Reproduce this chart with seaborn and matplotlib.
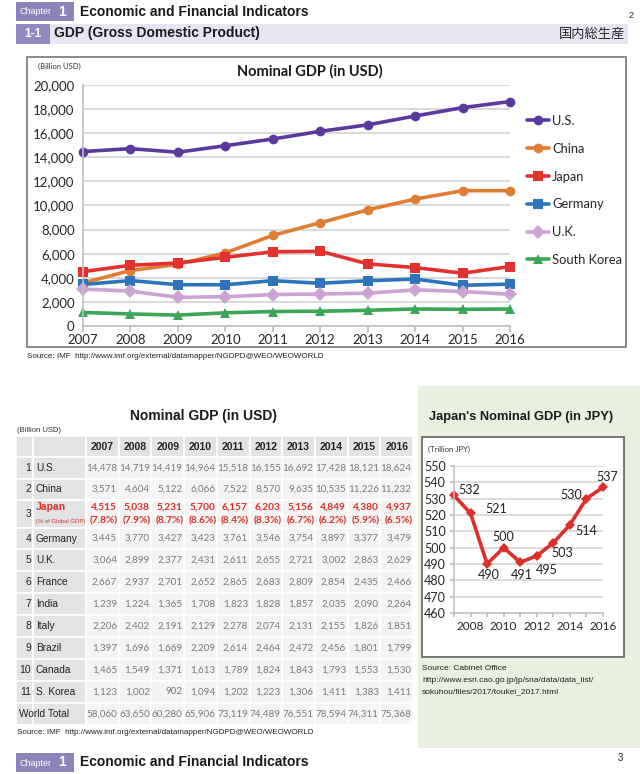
import numpy as np
import pandas as pd
import matplotlib
matplotlib.use('Agg')
import matplotlib.pyplot as plt
import seaborn as sns
from matplotlib.patches import Rectangle
from matplotlib.ticker import FuncFormatter

# ---- data (billion USD, IMF) ----
years = [2007, 2008, 2009, 2010, 2011, 2012, 2013, 2014, 2015, 2016]
us = [14478, 14719, 14419, 14964, 15518, 16155, 16692, 17428, 18121, 18624]
china = [3571, 4604, 5122, 6066, 7522, 8570, 9635, 10535, 11226, 11232]
japan = [4515, 5038, 5231, 5700, 6157, 6203, 5156, 4849, 4380, 4937]
germany = [3445, 3770, 3427, 3423, 3761, 3546, 3754, 3897, 3377, 3479]
uk = [3064, 2899, 2377, 2431, 2611, 2655, 2721, 3002, 2863, 2629]
france = [2667, 2937, 2701, 2652, 2865, 2683, 2809, 2854, 2435, 2466]
india = [1239, 1224, 1365, 1708, 1823, 1828, 1857, 2035, 2090, 2264]
italy = [2206, 2402, 2191, 2129, 2278, 2074, 2131, 2155, 1826, 1851]
brazil = [1397, 1696, 1669, 2209, 2614, 2464, 2472, 2456, 1801, 1799]
canada = [1465, 1549, 1371, 1613, 1789, 1824, 1843, 1793, 1553, 1530]
korea = [1123, 1002, 902, 1094, 1202, 1223, 1306, 1411, 1383, 1411]
world_total = [58060, 63650, 60280, 65906, 73119, 74489, 76551, 78594, 74311, 75368]
japan_share = [7.8, 7.9, 8.7, 8.6, 8.4, 8.3, 6.7, 6.2, 5.9, 6.5]

chart_countries = ['U.S.', 'China', 'Japan', 'Germany', 'U.K.', 'South Korea']
chart_values = [us, china, japan, germany, uk, korea]

tbl_names = ['U.S.', 'China', 'Japan', 'Germany', 'U.K.', 'France', 'India',
             'Italy', 'Brazil', 'Canada', 'S. Korea']
tbl_values = [us, china, japan, germany, uk, france, india, italy, brazil, canada, korea]

# Japan nominal GDP (trillion JPY, Cabinet Office)
jpy_gdp = [532, 521, 490, 500, 491, 495, 503, 514, 530, 537]

colors = {'U.S.': '#5b3a9e', 'China': '#e07d35', 'Japan': '#e2322f',
          'Germany': '#2f74bb', 'U.K.': '#cda3d6', 'South Korea': '#3ca556'}
markers = {'U.S.': 'o', 'China': 'o', 'Japan': 's', 'Germany': 's',
           'U.K.': 'D', 'South Korea': '^'}

sns.set_theme(style='white')
plt.rcParams['font.family'] = ['Lato', 'DejaVu Sans']
ARIAL = ['Liberation Sans', 'DejaVu Sans']
JP = ['Noto Sans CJK JP', 'DejaVu Sans']

W, H = 640, 774
fig = plt.figure(figsize=(6.4, 7.74), dpi=100)


def box(x0, y0, x1, y1):
    return [x0 / W, 1 - y1 / H, (x1 - x0) / W, (y1 - y0) / H]


bg = fig.add_axes([0, 0, 1, 1], zorder=-5)
bg.set_xlim(0, W)
bg.set_ylim(H, 0)
bg.axis('off')

purple = '#8c84b9'


def chapter_header(y):
    bg.add_patch(Rectangle((16, y), 58, 18.5, color=purple, lw=0))
    bg.text(20, y + 10, 'Chapter', color='white', fontsize=6.5, family=ARIAL, va='center')
    bg.text(58, y + 9.5, '1', color='white', fontsize=10, weight='bold', family=ARIAL, va='center')
    bg.text(80, y + 9.5, 'Economic and Financial Indicators', fontsize=10, weight='bold',
            family=ARIAL, va='center', color='#1a1a1a')


chapter_header(2)
bg.text(631, 16, '2', fontsize=6.5, family=ARIAL, ha='center', va='center')
bg.add_patch(Rectangle((16, 24), 612, 19.5, color='#e7e5f1', lw=0))
bg.add_patch(Rectangle((16, 24), 34, 19.5, color='#918ac0', lw=0))
bg.text(33, 34, '1-1', color='white', fontsize=8.5, weight='bold', family=ARIAL,
        ha='center', va='center')
bg.text(54, 33.5, 'GDP (Gross Domestic Product)', fontsize=10, weight='bold',
        family=ARIAL, va='center', color='#1a1a1a')
bg.text(625, 34, '国内総生産', fontsize=9.5, family=JP, ha='right', va='center')

# ---- main line chart ----
bg.add_patch(Rectangle((27, 57), 599, 290, fill=False, ec='#808080', lw=1.3))
bg.text(310, 71, 'Nominal GDP (in USD)', fontsize=10.5, weight='bold', ha='center',
        va='center', color='#1a1a1a')
bg.text(38, 66, '(Billion USD)', fontsize=5.5, va='center', color='#333')

df = pd.DataFrame({
    'Year': np.tile(years, len(chart_countries)),
    'GDP': np.concatenate(chart_values),
    'Country': np.repeat(chart_countries, len(years)),
})
ax = fig.add_axes(box(83, 85, 510, 326))
ax.set_facecolor('none')
sns.lineplot(data=df, x='Year', y='GDP', hue='Country', style='Country',
             hue_order=chart_countries, style_order=chart_countries,
             palette=colors, markers=markers, dashes=False, linewidth=2.6,
             markersize=7, markeredgewidth=0, ax=ax)
ax.set_xlim(2007, 2016)
ax.set_ylim(0, 20000)
ax.set_yticks(np.arange(0, 20001, 2000))
ax.set_xticks(years)
ax.yaxis.set_major_formatter(FuncFormatter(lambda v, p: f'{int(v):,}'))
ax.grid(axis='y', color='#d9d9d9', lw=1.4)
ax.set_axisbelow(True)
ax.set_xlabel('')
ax.set_ylabel('')
for s in ['top', 'right']:
    ax.spines[s].set_visible(False)
for s in ['left', 'bottom']:
    ax.spines[s].set_color('#bfbfbf')
    ax.spines[s].set_linewidth(1.2)
ax.tick_params(axis='x', labelsize=9.5, length=4, color='#bfbfbf', pad=2, bottom=True)
ax.tick_params(axis='y', labelsize=9.5, length=0, pad=6)
for ln in ax.lines:
    ln.set_clip_on(False)
handles, labels = ax.get_legend_handles_labels()
ax.legend(handles, labels, loc='upper left', bbox_to_anchor=(527 / W, 1 - 115 / H),
          bbox_transform=fig.transFigure, frameon=False, fontsize=9.3,
          handlelength=1.7, handletextpad=0.25, labelspacing=1.22,
          borderpad=0, borderaxespad=0)

bg.text(27, 357, 'Source: IMF  http://www.imf.org/external/datamapper/NGDPD@WEO/WEOWORLD',
        fontsize=5.8, family=ARIAL, va='center', color='#222')

# ---- table ----
bg.text(203, 416, 'Nominal GDP (in USD)', fontsize=10, weight='bold', family=ARIAL,
        ha='center', va='center', color='#1a1a1a')
bg.text(17, 430, '(Billion USD)', fontsize=5.5, family=ARIAL, va='center', color='#333')

row_edges = [436, 457, 479, 500, 528, 549, 571, 593, 615, 637, 659, 681, 703, 725]
col_edges = [16, 33, 86] + [86 + 32.7 * (i + 1) for i in range(10)]
red = '#d7312a'
num_grey = '#7a7a7a'

for r in range(len(row_edges) - 1):
    y0, y1 = row_edges[r], row_edges[r + 1]
    for c in range(len(col_edges) - 1):
        x0, x1 = col_edges[c], col_edges[c + 1]
        fc = '#e3e3e3' if (r == 0 or c < 2) else '#f4f4f4'
        bg.add_patch(Rectangle((x0, y0), x1 - x0, y1 - y0, fc=fc, ec='white', lw=1.2))

# header years
for i, yr in enumerate(years):
    xc = (col_edges[i + 2] + col_edges[i + 3]) / 2
    bg.text(xc, 447, str(yr), fontsize=7.5, weight='bold', family=ARIAL, ha='center',
            va='center', color='#222')

for k, (name, vals) in enumerate(zip(tbl_names, tbl_values)):
    y0, y1 = row_edges[k + 1], row_edges[k + 2]
    yc = (y0 + y1) / 2
    bg.text(31, yc, str(k + 1), fontsize=7.5, family=ARIAL, ha='right', va='center', color='#222')
    if name == 'Japan':
        bg.text(36, yc - 6.5, name, fontsize=7.5, weight='bold', family=ARIAL, va='center', color=red)
        bg.text(36, yc + 7, '(% of Global GDP)', fontsize=4.3, family=ARIAL, va='center', color=red)
        for i, v in enumerate(vals):
            xr = col_edges[i + 3] - 1.5
            bg.text(xr, yc - 6.5, f'{v:,}', fontsize=7.3, weight='bold', ha='right',
                    va='center', color=red)
            bg.text(xr + 1, yc + 7, f'({japan_share[i]}%)', fontsize=7.3, weight='bold',
                    ha='right', va='center', color=red)
    else:
        bg.text(36, yc, name, fontsize=7.3, family=ARIAL, va='center', color='#222')
        for i, v in enumerate(vals):
            xr = col_edges[i + 3] - 1.5
            bg.text(xr, yc, f'{v:,}', fontsize=7.1, ha='right', va='center', color=num_grey)

yc = (row_edges[-2] + row_edges[-1]) / 2
bg.text(19, yc, 'World Total', fontsize=7.3, family=ARIAL, va='center', color='#222')
for i, v in enumerate(world_total):
    bg.text(col_edges[i + 3] - 1.5, yc, f'{v:,}', fontsize=7.1, ha='right', va='center',
            color=num_grey)

bg.text(17, 733, 'Source: IMF  http://www.imf.org/external/datamapper/NGDPD@WEO/WEOWORLD',
        fontsize=5.8, family=ARIAL, va='center', color='#222')

# ---- right panel: JPY ----
bg.add_patch(Rectangle((418, 386), 222, 362, color='#e9f0e0', lw=0))
bg.text(521, 417, "Japan's Nominal GDP (in JPY)", fontsize=9.3, weight='bold', family=ARIAL,
        ha='center', va='center', color='#1a1a1a')
bg.add_patch(Rectangle((422, 437), 202, 220, fc='white', ec='#606060', lw=1.2))
bg.text(428, 449, '(Trillion JPY)', fontsize=5.5, va='center', color='#333')

ax2 = fig.add_axes(box(454, 466, 603, 613))
ax2.set_facecolor('none')
jdf = pd.DataFrame({'Year': years, 'GDP': jpy_gdp})
sns.lineplot(data=jdf, x='Year', y='GDP', color='#dc2f2a', marker='D', markersize=5,
             markeredgewidth=0, linewidth=2.6, ax=ax2)
ax2.set_xlim(2007, 2016)
ax2.set_ylim(460, 550)
ax2.set_yticks(np.arange(460, 551, 10))
ax2.set_xticks(years)
ax2.set_xticklabels([str(y) if y % 2 == 0 else '' for y in years])
ax2.grid(axis='y', color='#d9d9d9', lw=1.3)
ax2.set_axisbelow(True)
ax2.set_xlabel('')
ax2.set_ylabel('')
for s in ['top', 'right']:
    ax2.spines[s].set_visible(False)
for s in ['left', 'bottom']:
    ax2.spines[s].set_color('#bfbfbf')
    ax2.spines[s].set_linewidth(1.1)
ax2.tick_params(axis='x', labelsize=8.5, length=3, color='#bfbfbf', pad=3, bottom=True)
ax2.tick_params(axis='y', labelsize=9, length=3, color='#bfbfbf', pad=3, left=True)
for ln in ax2.lines:
    ln.set_clip_on(False)

label_offsets = [(15, 5), (26, 4), (2, -11), (0, 11), (2, -13), (10, -14),
                 (9, -10), (16, -6), (-15, 4), (4, 10)]
for yr, v, off in zip(years, jpy_gdp, label_offsets):
    ax2.annotate(str(v), (yr, v), xytext=off, textcoords='offset pixels',
                 fontsize=9, ha='center', va='center', color='#222')

bg.text(422, 668, 'Source: Cabinet Office', fontsize=6, family=ARIAL, va='center', color='#222')
bg.text(422, 680, 'http://www.esri.cao.go.jp/jp/sna/data/data_list/', fontsize=6,
        family=ARIAL, va='center', color='#222')
bg.text(422, 692, 'sokuhou/files/2017/toukei_2017.html', fontsize=6, family=ARIAL,
        va='center', color='#222')

bg.text(620, 758, '3', fontsize=7, family=ARIAL, ha='center', va='center')
chapter_header(753)

fig.savefig('out.png', dpi=100)
